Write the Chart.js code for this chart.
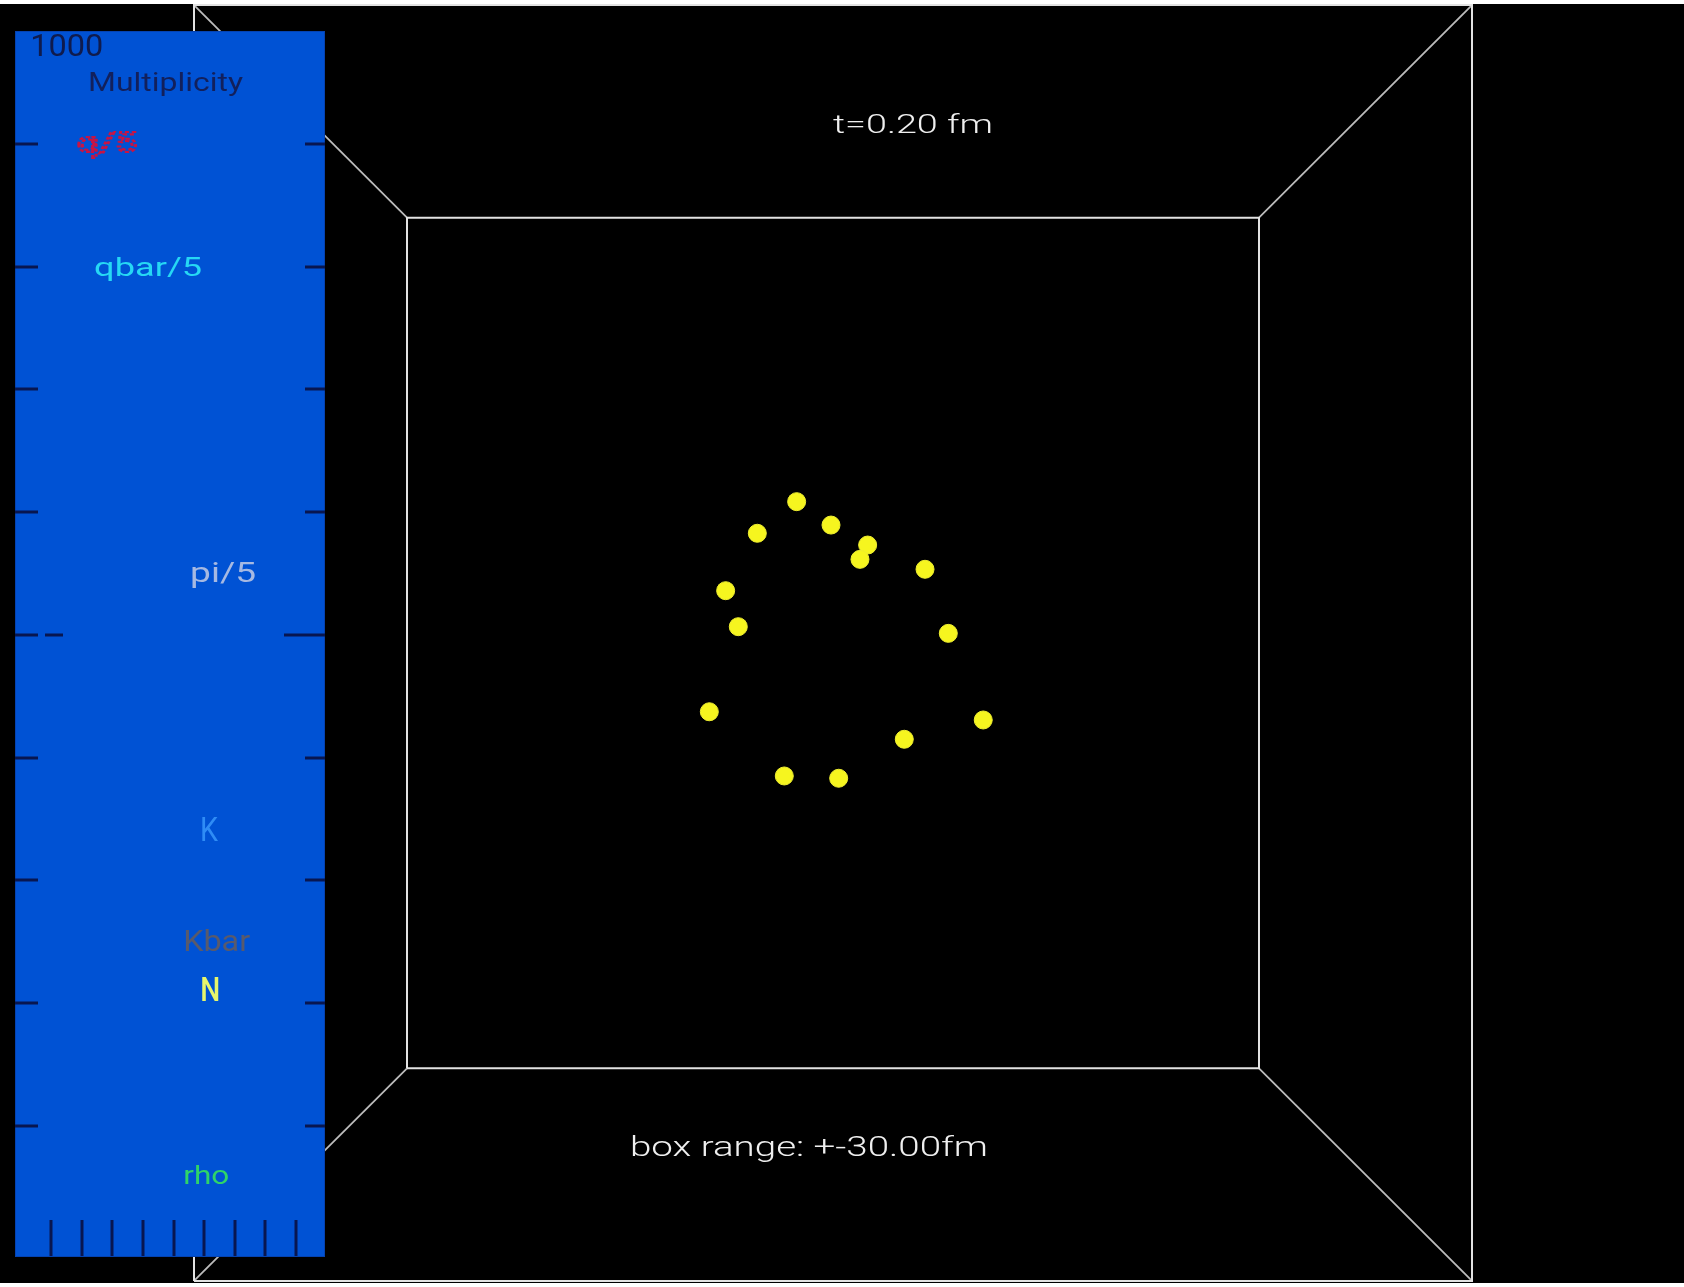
<!DOCTYPE html>
<html>
<head>
<meta charset="utf-8">
<title>t=0.20 fm</title>
<script src="https://cdn.jsdelivr.net/npm/chart.js@4.4.1/dist/chart.umd.min.js"></script>
<style>
  html, body { margin: 0; padding: 0; background: #ffffff; width: 1684px; height: 1287px; overflow: hidden; }
  #stage { position: absolute; left: 0; top: 4px; width: 1684px; height: 1279px; background: #000000; }
  #view { position: absolute; left: 0; top: 0; }
  #mult { position: absolute; left: 15px; top: 31px; }
</style>
</head>
<body>
<div id="stage"></div>
<canvas id="view" width="1684" height="1287"></canvas>
<canvas id="mult" width="310" height="1226"></canvas>
<script>
// ---- event data -------------------------------------------------------
const timeFm = 0.20;          // evolution time shown in the header
const boxRange = 30;          // half-width of the box, fm
const eyeDistance = 150;      // viewer distance from the box centre, fm

// nucleon positions in the view plane, fm
const nucleonX = [-2.56, -5.33, -0.14, 2.44, 1.90, 6.48, -7.56, -6.67, 8.12, -8.71, 10.58, 5.02, -3.43, 0.40];
const nucleonY = [9.97, 7.74, 8.32, 6.91, 5.90, 5.20, 3.69, 1.15, 0.68, -4.85, -5.43, -6.79, -9.38, -9.54];

// multiplicity panel axes
const multiplicityTicks = [100, 200, 300, 400, 500, 600, 700, 800, 900];
const multiplicityMax = 1000;
const timeTicks = [1, 2, 3, 4, 5, 6, 7, 8, 9];

// species legend
const speciesNames = ['q/5', 'qbar/5', 'pi/5', 'K', 'Kbar', 'N', 'rho'];
const speciesColors = ['#c81443', '#26d8f4', '#a6b9e2', '#2f8cf5', '#585a6c', '#e6f66c', '#2fd468'];

// ---- helpers ----------------------------------------------------------
function project(x, y, z) {
  const f = (eyeDistance + boxRange) / (eyeDistance - z);
  return { x: x * f, y: y * f };
}

function face(z) {
  const r = boxRange;
  return [[-r, -r], [r, -r], [r, r], [-r, r], [-r, -r]].map(([x, y]) => project(x, y, z));
}

function depthEdge(sx, sy) {
  return [project(sx * boxRange, sy * boxRange, -boxRange), project(sx * boxRange, sy * boxRange, boxRange)];
}

// draws a text label centred at (cx, cy), stretched to a given width
function drawLabel(ctx, text, cx, cy, st) {
  ctx.save();
  ctx.font = `${st.weight || 400} ${st.size}px ${st.family || "Roboto, 'DejaVu Sans', sans-serif"}`;
  const w0 = ctx.measureText(text).width;
  ctx.translate(cx, cy);
  ctx.scale(st.width / w0, 1);
  ctx.textAlign = 'center';
  ctx.textBaseline = 'middle';
  if (st.dotted) {
    ctx.strokeStyle = st.color;
    ctx.lineWidth = 2.2;
    ctx.setLineDash([3, 2]);
    ctx.strokeText(text, 0, 0);
  } else {
    ctx.fillStyle = st.color;
    ctx.fillText(text, 0, 0);
  }
  ctx.restore();
}

// ---- 3D box view ------------------------------------------------------
const lineStyle = { showLine: true, pointRadius: 0, borderColor: '#e2e2e2', borderWidth: 2, fill: false, clip: false };
const edgeStyle = { showLine: true, pointRadius: 0, borderColor: '#bcbcbc', borderWidth: 1.8, fill: false, clip: false };

const viewDatasets = [
  Object.assign({ label: 'back', data: face(-boxRange) }, lineStyle),
  Object.assign({ label: 'front', data: face(boxRange) }, lineStyle),
  Object.assign({ label: 'e1', data: depthEdge(-1, -1) }, edgeStyle),
  Object.assign({ label: 'e2', data: depthEdge(1, -1) }, edgeStyle),
  Object.assign({ label: 'e3', data: depthEdge(1, 1) }, edgeStyle),
  Object.assign({ label: 'e4', data: depthEdge(-1, 1) }, edgeStyle),
  {
    label: 'N',
    data: nucleonX.map((x, i) => ({ x, y: nucleonY[i] })),
    showLine: false,
    pointRadius: 9,
    pointHoverRadius: 9,
    backgroundColor: '#f6f51f',
    borderColor: '#eeee30',
    borderWidth: 1,
    clip: false
  }
];

const viewText = {
  id: 'viewText',
  afterDatasetsDraw(chart) {
    const { ctx, scales: { x, y } } = chart;
    drawLabel(ctx, `t=${timeFm.toFixed(2)} fm`, x.getPixelForValue(5.63), y.getPixelForValue(36.38),
      { size: 25, width: 160, color: '#efefef', weight: 300 });
    drawLabel(ctx, `box range: +-${boxRange.toFixed(2)}fm`, x.getPixelForValue(-1.69), y.getPixelForValue(-35.66),
      { size: 28, width: 358, color: '#efefef', weight: 300 });
  }
};

new Chart(document.getElementById('view'), {
  type: 'scatter',
  data: { datasets: viewDatasets },
  options: {
    responsive: false,
    devicePixelRatio: 1,
    animation: false,
    events: [],
    layout: { padding: { left: 194, right: 212, top: 10, bottom: 10 } },
    plugins: { legend: { display: false }, tooltip: { enabled: false } },
    scales: {
      x: { type: 'linear', display: false, min: -45, max: 45 },
      y: { type: 'linear', display: false, min: -44.72, max: 44.65 }
    }
  },
  plugins: [viewText]
});

// ---- multiplicity panel -----------------------------------------------
const legendAnchors = [
  { t: 2.83, m: 899, size: 28, width: 60, dotted: true },
  { t: 4.17, m: 798, size: 26, width: 108 },
  { t: 6.62, m: 549, size: 28, width: 66 },
  { t: 6.16, m: 339, size: 33, width: 18 },
  { t: 6.41, m: 249, size: 30, width: 67 },
  { t: 6.20, m: 209, size: 34, width: 20, weight: 500 },
  { t: 6.07, m: 58, size: 25, width: 46 }
];

const panelDraw = {
  id: 'panelDraw',
  beforeDraw(chart) {
    const { ctx, width, height } = chart;
    ctx.save();
    ctx.fillStyle = '#0052d4';
    ctx.fillRect(0, 0, width, height);
    ctx.strokeStyle = '#0a3590';
    ctx.lineWidth = 1;
    ctx.setLineDash([1, 1]);
    ctx.strokeRect(0.5, 0.5, width - 1, height - 1);
    ctx.restore();
  },
  afterDraw(chart) {
    const { ctx, chartArea: a, scales: { x, y } } = chart;
    ctx.save();
    ctx.strokeStyle = '#081650';
    ctx.lineWidth = 3;
    ctx.lineCap = 'butt';
    multiplicityTicks.forEach(v => {
      const py = Math.round(y.getPixelForValue(v));
      const major = v === 500;
      ctx.beginPath();
      if (major) {
        ctx.setLineDash([23, 7]);
        ctx.moveTo(a.left, py); ctx.lineTo(a.left + 48, py);
        ctx.stroke();
        ctx.setLineDash([]);
        ctx.beginPath();
        ctx.moveTo(a.right - 41, py); ctx.lineTo(a.right, py);
      } else {
        ctx.moveTo(a.left, py); ctx.lineTo(a.left + 23, py);
        ctx.moveTo(a.right - 20, py); ctx.lineTo(a.right, py);
      }
      ctx.stroke();
    });
    timeTicks.forEach(t => {
      const px = Math.round(x.getPixelForValue(t));
      ctx.beginPath();
      ctx.moveTo(px, a.bottom - 37); ctx.lineTo(px, a.bottom - 1);
      ctx.stroke();
    });
    ctx.restore();

    drawLabel(ctx, String(multiplicityMax), x.getPixelForValue(1.51), y.getPixelForValue(978),
      { size: 31, width: 73, color: '#0f1b4d' });
    drawLabel(ctx, 'Multiplicity', x.getPixelForValue(4.74), y.getPixelForValue(948),
      { size: 25, width: 155, color: '#12205c' });
    speciesNames.forEach((name, i) => {
      const an = legendAnchors[i];
      drawLabel(ctx, name, x.getPixelForValue(an.t), y.getPixelForValue(an.m),
        { size: an.size, width: an.width, color: speciesColors[i], dotted: an.dotted, weight: an.weight || 400 });
    });
  }
};

new Chart(document.getElementById('mult'), {
  type: 'line',
  data: { datasets: [] },
  options: {
    responsive: false,
    devicePixelRatio: 1,
    animation: false,
    events: [],
    layout: { padding: 0 },
    plugins: { legend: { display: false }, tooltip: { enabled: false } },
    scales: {
      x: { type: 'linear', display: false, min: -0.18, max: 9.95 },
      y: { type: 'linear', display: false, min: -6.7, max: 992 }
    }
  },
  plugins: [panelDraw]
});
</script>
</body>
</html>
